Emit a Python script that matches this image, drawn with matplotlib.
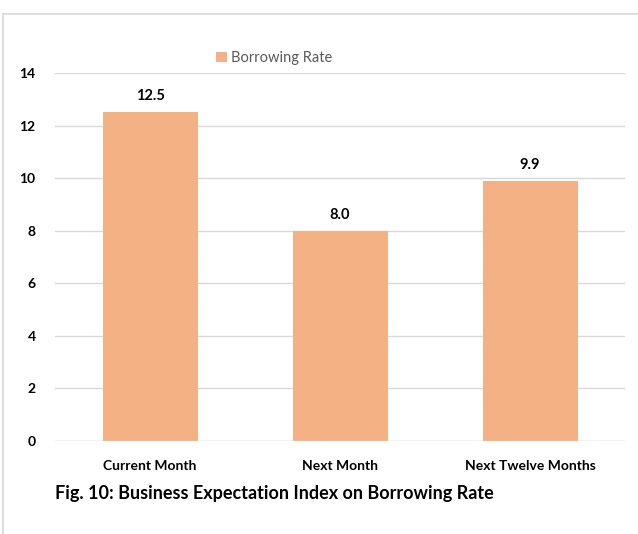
import matplotlib
matplotlib.use("Agg")
import matplotlib.pyplot as plt
from matplotlib.lines import Line2D

categories = ["Current Month", "Next Month", "Next Twelve Months"]
values = [12.5, 8.0, 9.9]
yticks = [0, 2, 4, 6, 8, 10, 12, 14]

plt.rcParams["font.family"] = ["Lato", "DejaVu Sans"]

fig = plt.figure(figsize=(6.38, 5.34), dpi=100)
ax = fig.add_axes([55 / 638, 1 - 441 / 534, 570 / 638, 368 / 534])

bars = ax.bar(range(len(categories)), values, width=0.5, color="#F4B183",
              label="Borrowing Rate", zorder=3)
for b, v in zip(bars, values):
    ax.text(b.get_x() + b.get_width() / 2, v + 0.35, f"{v:.1f}",
            ha="center", va="bottom", fontsize=10.5, fontweight="bold")

ax.set_xlim(-0.5, 2.5)
ax.set_ylim(0, 14)
ax.set_yticks(yticks)
ax.set_xticks(range(len(categories)))
ax.set_xticklabels(categories, fontsize=10, fontweight="bold")
ax.set_yticklabels([str(t) for t in yticks], fontsize=10, fontweight="bold")
ax.yaxis.grid(True, color="#d9d9d9", linewidth=1, zorder=0)
ax.tick_params(length=0)
ax.tick_params(axis="x", pad=14)
ax.tick_params(axis="y", pad=14)
for s in ax.spines.values():
    s.set_visible(False)
ax.axhline(0, color="#d9d9d9", linewidth=1, zorder=4)

ax.legend(loc="upper left", bbox_to_anchor=(0.26, 1.095), frameon=False,
          fontsize=10.5, handlelength=0.7, handleheight=0.7, handletextpad=0.3,
          labelcolor="#595959")

fig.text(55 / 638, 1 - 494 / 534, "Fig. 10: Business Expectation Index on Borrowing Rate",
         fontsize=13, fontweight="bold", va="center", ha="left")

# outer frame
fig.add_artist(Line2D([3 / 638, 1], [1 - 14 / 534] * 2, color="#d9d9d9", lw=1.2))
fig.add_artist(Line2D([3 / 638] * 2, [0, 1 - 14 / 534], color="#d9d9d9", lw=1.2))

fig.savefig("out.png", dpi=100)
